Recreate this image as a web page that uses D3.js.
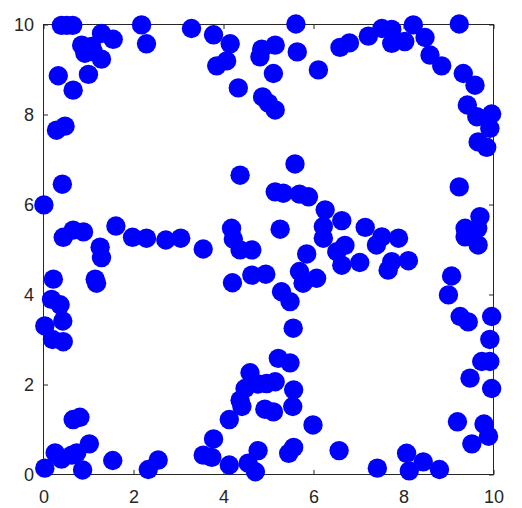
<!DOCTYPE html>
<html>
<head>
<meta charset="utf-8">
<script src="https://cdn.jsdelivr.net/npm/d3@7"></script>
<style>
  html, body { margin: 0; padding: 0; background: #ffffff; }
  svg { display: block; }
</style>
</head>
<body>
<svg id="chart" width="522" height="508"></svg>
<script>
// ---- data ----
const xValues = [
  0.41, 0.53, 0.66, 2.19, 2.30, 3.30, 3.79, 4.16, 4.08, 3.86,
  4.34, 4.82, 4.86, 4.88, 5.01, 5.16, 5.12, 0.86, 0.93, 1.08,
  1.30, 1.56, 1.30, 1.12, 1.01, 0.34, 0.67, 0.30, 0.49, 0.43,
  0.02, 4.38, 0.45, 0.67, 0.90, 1.62, 1.27, 1.30, 1.99, 2.30,
  2.73, 3.06, 3.56, 4.19, 4.23, 4.38, 4.64,
  5.62, 5.65, 5.16, 6.12, 6.60, 6.81, 7.23, 7.53, 7.75, 7.75,
  8.04, 8.23, 8.49, 8.60, 8.86, 9.25, 9.34, 9.60, 9.43, 9.64,
  9.97, 9.93, 9.67, 9.86, 5.60, 9.25, 5.16, 5.34, 5.70, 5.90,
  6.27, 6.64, 6.23, 6.23, 5.27, 7.16, 7.53, 7.90, 6.71, 5.86,
  9.71, 9.38, 9.66, 9.45, 9.67, 9.38,
  6.53, 6.64, 7.04, 7.41, 7.75, 7.67, 8.12, 4.95, 5.70, 5.78,
  6.08, 5.30, 5.49, 5.56, 9.08, 9.01, 9.27, 9.45, 9.97, 9.93,
  9.75, 9.93, 9.49, 9.97, 5.23, 5.49, 4.97, 5.16, 5.57, 4.93,
  5.12, 5.55, 6.00, 9.21, 9.80, 9.90, 9.53, 4.78, 5.57, 5.46,
  6.58, 7.43, 8.08, 8.14, 8.45, 8.81, 4.72,
  4.21, 4.64, 1.16, 1.19, 0.23, 0.19, 0.38, 0.44, 0.04, 0.21,
  0.45, 0.67, 0.82, 0.04, 0.27, 0.41, 0.64, 0.75, 1.03, 0.88,
  1.55, 2.34, 2.56, 3.79, 3.56, 3.75, 4.14, 4.56, 4.14, 4.38,
  4.42, 4.49, 4.60, 4.78
];
const yValues = [
  9.97, 9.97, 9.97, 9.98, 9.56, 9.90, 9.76, 9.56, 9.18, 9.07,
  8.58, 9.27, 9.44, 8.38, 8.24, 8.09, 8.90, 9.53, 9.35, 9.50,
  9.79, 9.66, 9.22, 9.38, 8.88, 8.85, 8.53, 7.64, 7.73, 6.44,
  5.98, 6.64, 5.26, 5.42, 5.38, 5.51, 5.04, 4.81, 5.26, 5.24,
  5.20, 5.24, 5.00, 5.46, 5.22, 4.98, 4.98,
  10.0, 9.38, 9.53, 8.98, 9.48, 9.58, 9.73, 9.90, 9.88, 9.57,
  9.61, 9.98, 9.70, 9.31, 9.07, 10.0, 8.90, 8.64, 8.20, 7.94,
  8.00, 7.68, 7.38, 7.26, 6.89, 6.38, 6.27, 6.24, 6.22, 6.16,
  5.87, 5.63, 5.50, 5.24, 5.44, 5.48, 5.27, 5.24, 5.08, 4.89,
  5.72, 5.46, 5.46, 5.35, 5.09, 5.27,
  4.94, 4.64, 4.70, 5.09, 4.72, 4.53, 4.74, 4.44, 4.50, 4.24,
  4.35, 4.05, 3.83, 3.24, 4.40, 3.98, 3.50, 3.38, 3.50, 2.99,
  2.50, 2.50, 2.13, 1.90, 2.57, 2.47, 2.01, 2.05, 1.87, 1.44,
  1.38, 1.50, 1.09, 1.16, 1.11, 0.84, 0.67, 0.52, 0.59, 0.46,
  0.52, 0.13, 0.46, 0.07, 0.27, 0.10, 0.05,
  4.25, 4.42, 4.33, 4.24, 4.33, 3.88, 3.76, 3.40, 3.29, 2.99,
  2.94, 1.21, 1.26, 0.13, 0.47, 0.33, 0.42, 0.47, 0.67, 0.09,
  0.30, 0.10, 0.31, 0.78, 0.42, 0.37, 0.20, 0.24, 1.21, 1.64,
  1.50, 1.90, 2.25, 2.00
];
const xTicks = [0, 2, 4, 6, 8, 10];
const yTicks = [0, 2, 4, 6, 8, 10];

// ---- layout ----
const plotLeft = 43, plotRight = 493, plotTop = 24, plotBottom = 474;
const axisColor = "#262626";
const fontFamily = "'Liberation Sans', Arial, Helvetica, sans-serif";

const svg = d3.select("#chart");
const x = d3.scaleLinear().domain([0, 10]).range([plotLeft, plotRight]);
const y = d3.scaleLinear().domain([0, 10]).range([plotBottom, plotTop]);

const axesG = svg.append("g");

// frame (box on)
axesG.append("rect")
  .attr("x", plotLeft + 0.5).attr("y", plotTop + 0.5)
  .attr("width", plotRight - plotLeft).attr("height", plotBottom - plotTop)
  .attr("fill", "none").attr("stroke", axisColor).attr("stroke-width", 1);

function styleAxis(g) {
  g.select(".domain").remove();
  g.selectAll(".tick line").attr("stroke", axisColor).attr("stroke-width", 1);
  g.selectAll(".tick text").attr("fill", axisColor)
    .style("font-family", fontFamily).style("font-size", "18px");
}

const tickLen = 4.5;
axesG.append("g").attr("transform", `translate(0.5,${plotBottom + 0.5})`)
  .call(d3.axisBottom(x).tickValues(xTicks).tickFormat(d3.format("d"))
    .tickSizeInner(-tickLen).tickSizeOuter(0).tickPadding(15.5))
  .call(styleAxis);
axesG.append("g").attr("transform", `translate(0.5,${plotTop + 0.5})`)
  .call(d3.axisTop(x).tickValues(xTicks).tickFormat("")
    .tickSizeInner(-tickLen).tickSizeOuter(0))
  .call(styleAxis);
axesG.append("g").attr("transform", `translate(${plotLeft + 0.5},0.5)`)
  .call(d3.axisLeft(y).tickValues(yTicks).tickFormat(d3.format("d"))
    .tickSizeInner(-tickLen).tickSizeOuter(0).tickPadding(9.5))
  .call(styleAxis);
axesG.append("g").attr("transform", `translate(${plotRight + 0.5},0.5)`)
  .call(d3.axisRight(y).tickValues(yTicks).tickFormat("")
    .tickSizeInner(-tickLen).tickSizeOuter(0))
  .call(styleAxis);

// ---- points ----
const points = xValues.map((v, i) => ({ x: v, y: yValues[i] }));
svg.append("g").selectAll("circle").data(points).join("circle")
  .attr("cx", d => x(d.x))
  .attr("cy", d => y(d.y))
  .attr("r", 9.7)
  .attr("fill", "#0000ff");
</script>
</body>
</html>
